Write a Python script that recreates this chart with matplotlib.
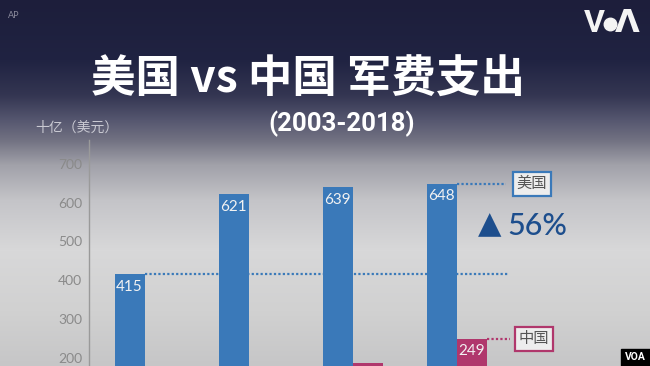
import numpy as np
import matplotlib
matplotlib.use("Agg")
import matplotlib.pyplot as plt
from matplotlib.colors import to_rgb

plt.rcParams['font.family'] = ['Lato', 'Noto Sans CJK SC', 'DejaVu Sans']

# -------------------------
# DATA
# -------------------------
years = ["2003", "2008", "2013", "2018"]
us_spending = [415, 621, 639, 648]
china_years = ["2013", "2018"]
china_spending = [186, 249]
yticks = [200, 300, 400, 500, 600, 700]
growth_label = "56%"

title = "美国 vs 中国 军费支出"
subtitle = "(2003-2018)"
unit_label = "十亿（美元）"

BLUE = "#3a79b9"
PINK = "#b0376c"
DARK_BLUE = "#1d4e8d"

W, H = 650, 366


def fx(px):
    return px / W


def fy(py):
    return 1 - py / H


fig = plt.figure(figsize=(6.5, 3.66), dpi=100)

# -------------------------
# BACKGROUND GRADIENT
# -------------------------
stops = [(0, "#1d1e3b"), (60, "#202342"), (95, "#343652"), (120, "#565770"),
         (140, "#727282"), (165, "#a2a2aa"), (200, "#c4c4c8"), (250, "#d8d8d9"),
         (310, "#d1d1d1"), (366, "#c6c6c7")]
rows = np.arange(H)
cols = np.array([to_rgb(c) for _, c in stops])
pos = np.array([p for p, _ in stops])
grad = np.stack([np.interp(rows, pos, cols[:, k]) for k in range(3)], axis=1)
img = np.repeat(grad[:, None, :], W, axis=1)
bg = fig.add_axes([0, 0, 1, 1])
bg.imshow(img, aspect="auto", extent=[0, W, H, 0])
bg.set_xlim(0, W)
bg.set_ylim(H, 0)
bg.axis("off")

# -------------------------
# BARS
# -------------------------
ax = fig.add_axes([fx(89), 0, fx(650) - fx(89), 226 / H])
ax.set_facecolor("none")
px_per_unit = 104.0
x0 = (89 - 144.5) / px_per_unit
ax.set_xlim(x0, x0 + 561 / px_per_unit)
ax.set_ylim(179, 761)

w = 30 / px_per_unit
x = np.arange(len(years))
cx = np.array([years.index(y) for y in china_years])

ax.bar(x - w / 2, us_spending, w, color=BLUE, zorder=3)
ax.bar(cx + w / 2, china_spending, w, color=PINK, zorder=3)

for xi, v in zip(x - w / 2, us_spending):
    ax.annotate(str(v), (xi, v), xytext=(0, -4), textcoords="offset points",
                ha="center", va="top", color="#f2f2f2", fontsize=11, zorder=4)
for xi, v in zip(cx + w / 2, china_spending):
    if v > 230:
        ax.annotate(str(v), (xi, v), xytext=(0, -4), textcoords="offset points",
                    ha="center", va="top", color="#f2f2f2", fontsize=11, zorder=4)

# dotted reference lines
ax.plot([0, 3.5], [us_spending[0]] * 2, color=BLUE, lw=1.6,
        ls=(0, (1, 1)), zorder=2)
ax.plot([3, 3.48], [us_spending[-1]] * 2, color=BLUE, lw=1.6,
        ls=(0, (1, 1)), zorder=2)
ax.plot([3 + w, 3.51], [china_spending[-1]] * 2, color=PINK, lw=1.6,
        ls=(0, (1, 1)), zorder=2)

ax.text(3.726, us_spending[-1], "美国", ha="center", va="center", fontsize=11,
        color="#555555", family=["Noto Sans CJK SC"], zorder=5,
        bbox=dict(boxstyle="square,pad=0.22", fc="#ededed", ec=BLUE, lw=1.6))
ax.text(3.745, china_spending[-1], "中国", ha="center", va="center", fontsize=11,
        color="#555555", family=["Noto Sans CJK SC"], zorder=5,
        bbox=dict(boxstyle="square,pad=0.22", fc="#ededed", ec=PINK, lw=1.6))

ax.set_yticks(yticks)
ax.set_yticklabels([str(t) for t in yticks])
ax.tick_params(axis="y", length=0, pad=5, labelsize=10, labelcolor="#8a8a8a")
ax.set_xticks([])
for s in ["top", "right", "bottom"]:
    ax.spines[s].set_visible(False)
ax.spines["left"].set_color("#9a9a9a")
ax.spines["left"].set_linewidth(1)

# -------------------------
# TEXT
# -------------------------
fig.text(fx(308), fy(80), title, ha="center", va="center", color="white",
         fontsize=32, fontweight="heavy", family=["Noto Sans CJK SC"])
fig.text(fx(342), fy(124), subtitle, ha="center", va="center", color="white",
         fontsize=18.5, fontweight="bold", family=["Roboto"])
fig.text(fx(35), fy(128), unit_label, ha="left", va="center", color="#c9c9d2",
         fontsize=10, family=["Noto Sans CJK SC"])
fig.text(fx(8), fy(15), "AP", ha="left", va="center", color="#8a8a9c", fontsize=6.5)

fig.text(fx(490), fy(225), "▲", ha="center", va="center", color=DARK_BLUE,
         fontsize=22, family=["DejaVu Sans"])
fig.text(fx(507), fy(226), growth_label, ha="left", va="center", color=DARK_BLUE,
         fontsize=22, fontweight="medium")

# VOA logo top right
fig.text(fx(594), fy(23), "V", ha="center", va="center", color="#f4f4f4",
         fontsize=23, fontweight="bold", family=["Roboto"])
fig.text(fx(627), fy(23), "Λ", ha="center", va="center", color="#f4f4f4",
         fontsize=23, fontweight="bold", family=["DejaVu Sans"])
bg.plot([610], [24], "o", color="#f4f4f4", ms=9)

# VOA watermark bottom right
bg.add_patch(plt.Rectangle((621, 349), 29, 17, color="black", zorder=5))
fig.text(fx(635.5), fy(357.5), "VOA", ha="center", va="center", color="white",
         fontsize=7.5, fontweight="bold", family=["Roboto"], zorder=6)

fig.savefig("out.png", dpi=100)
